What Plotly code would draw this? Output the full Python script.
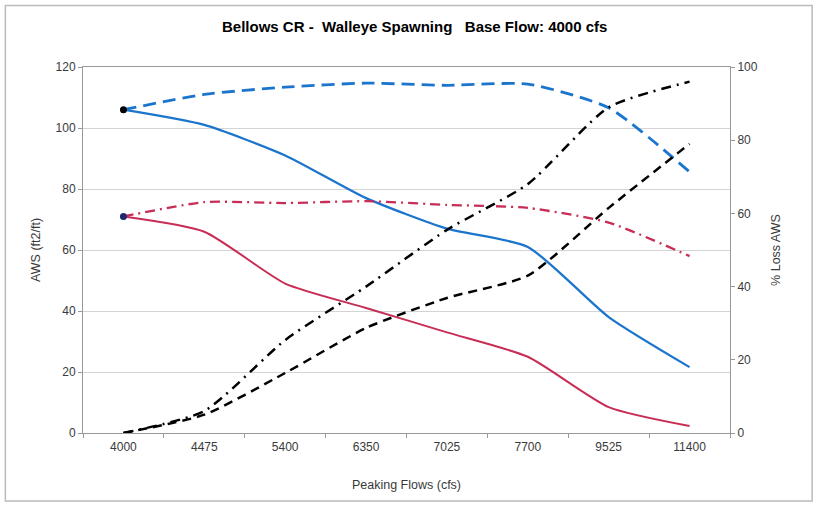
import plotly.graph_objects as go

flows = ['4000', '4475', '5400', '6350', '7025', '7700', '9525', '11400']

aws_blue = [106, 101, 91, 77, 67, 61, 38, 21.6]
aws_blue_base = [106, 111, 113.4, 114.7, 114, 114.4, 106.6, 85.6]
aws_red = [71, 66, 49, 41, 33, 25, 8.5, 2.3]
aws_red_base = [71, 75.7, 75.4, 76, 74.8, 73.8, 69, 58]
loss_dashdot = [0, 6, 25.4, 40, 55.5, 68, 89, 96]
loss_dash = [0, 5, 16.4, 28.7, 36.9, 43, 61.5, 79]

blue = 'rgb(28,117,205)'
red = 'rgb(200,45,85)'
sm = 0.6

fig = go.Figure()

fig.add_trace(go.Scatter(x=flows, y=aws_blue_base, mode='lines', line=dict(color=blue, width=2.8, dash='13px,7px', shape='spline', smoothing=sm)))
fig.add_trace(go.Scatter(x=flows, y=aws_blue, mode='lines', line=dict(color=blue, width=2.3, shape='spline', smoothing=sm)))
fig.add_trace(go.Scatter(x=flows, y=aws_red_base, mode='lines', line=dict(color=red, width=2.3, dash='10px,5px,2px,5px', shape='spline', smoothing=sm)))
fig.add_trace(go.Scatter(x=flows, y=aws_red, mode='lines', line=dict(color=red, width=2, shape='spline', smoothing=sm)))
fig.add_trace(go.Scatter(x=flows, y=loss_dashdot, mode='lines', yaxis='y2', line=dict(color='black', width=2.5, dash='10px,6px,2px,6px', shape='spline', smoothing=sm)))
fig.add_trace(go.Scatter(x=flows, y=loss_dash, mode='lines', yaxis='y2', line=dict(color='black', width=2.5, dash='9px,6px', shape='spline', smoothing=sm)))

# start markers
fig.add_trace(go.Scatter(x=[flows[0]], y=[aws_blue[0]], mode='markers', marker=dict(color='black', size=7)))
fig.add_trace(go.Scatter(x=[flows[0]], y=[aws_red[0]], mode='markers', marker=dict(color='rgb(30,40,110)', size=7)))

tick_font = dict(family='Liberation Sans, Arial', size=12, color='#3a3a3a')
title_font = dict(family='Liberation Sans, Arial', size=12.5, color='#3a3a3a')

fig.update_layout(
    width=818, height=505,
    margin=dict(l=83, r=88, t=67, b=72),
    paper_bgcolor='white', plot_bgcolor='white',
    showlegend=False,
    title=dict(text='<b>Bellows CR -  Walleye Spawning   Base Flow: 4000 cfs</b>', x=0.507, xanchor='center', y=0.947, yanchor='middle',
               font=dict(family='Liberation Sans, Arial', size=15, color='black')),
    xaxis=dict(type='category', range=[-0.5, 7.5], tickfont=tick_font, showline=True, linecolor='#999', mirror=True,
               ticks='outside', ticklen=4, tickcolor='#999', tickson='boundaries', showgrid=False, automargin=False,
               ticklabelstandoff=3,
               title=dict(text='Peaking Flows (cfs)', font=title_font, standoff=26)),
    yaxis=dict(range=[0, 120], dtick=20, tickfont=tick_font, showline=True, linecolor='#999', mirror=True,
               ticks='outside', ticklen=4, tickcolor='#999', gridcolor='#d4d4d4', zeroline=False, automargin=False,
               title=dict(text='AWS (ft2/ft)', font=title_font, standoff=12)),
    yaxis2=dict(range=[0, 100], dtick=20, overlaying='y', side='right', tickfont=tick_font, showgrid=False,
                showline=True, linecolor='#999', ticks='outside', ticklen=4, tickcolor='#999', zeroline=False, automargin=False,
                title=dict(text='% Loss AWS', font=title_font, standoff=14)),
    shapes=[dict(type='rect', xref='paper', yref='paper', x0=-0.12, x1=1.127, y0=-0.186, y1=1.168,
                 line=dict(color='#bbb', width=1.5))],
)

fig.write_html("out.html", config={'displayModeBar': False}, post_script="document.body.style.margin='0';")
